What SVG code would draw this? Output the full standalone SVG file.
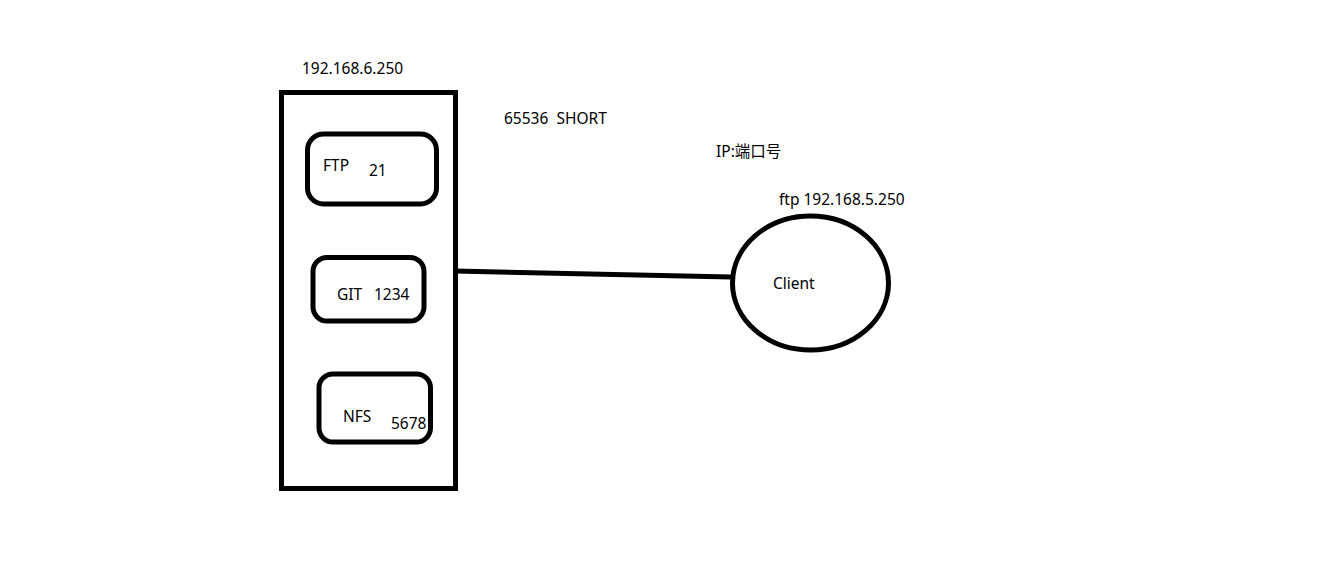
<svg xmlns="http://www.w3.org/2000/svg" width="1341" height="577" viewBox="0 0 1341 577">
<style>
.s{fill:none;stroke:#000;stroke-width:5}
.t{font-family:"Noto Sans","Liberation Sans","Noto Sans CJK SC",sans-serif;font-size:15.5px;fill:#000}
</style>
<rect width="1341" height="577" fill="#fff"/>
<g id="server">
<rect class="s" x="281.5" y="92.5" width="174" height="396"/>
<text class="t" x="302" y="74">192.168.6.250</text>
</g>
<g id="ftp">
<rect class="s" x="307.5" y="134" width="129" height="70" rx="16"/>
<text class="t" x="323" y="171">FTP</text>
<text class="t" x="369" y="176">21</text>
</g>
<g id="git">
<rect class="s" x="313" y="257.5" width="111" height="63.5" rx="14"/>
<text class="t" x="337" y="300">GIT</text>
<text class="t" x="374" y="300">1234</text>
</g>
<g id="nfs">
<rect class="s" x="319" y="374" width="111.5" height="68" rx="14"/>
<text class="t" x="343" y="422">NFS</text>
<text class="t" x="391" y="429">5678</text>
</g>
<g id="client">
<ellipse class="s" cx="810.5" cy="283" rx="78" ry="67"/>
<text class="t" x="773" y="289">Client</text>
<text class="t" x="779" y="205">ftp 192.168.5.250</text>
</g>
<g id="labels">
<text class="t" x="504" y="124" xml:space="preserve">65536  SHORT</text>
<text class="t" x="716" y="157">IP:端口号</text>
</g>
<g id="connectors">
<path class="s" d="M454 271 L731 277"/>
</g>
</svg>
